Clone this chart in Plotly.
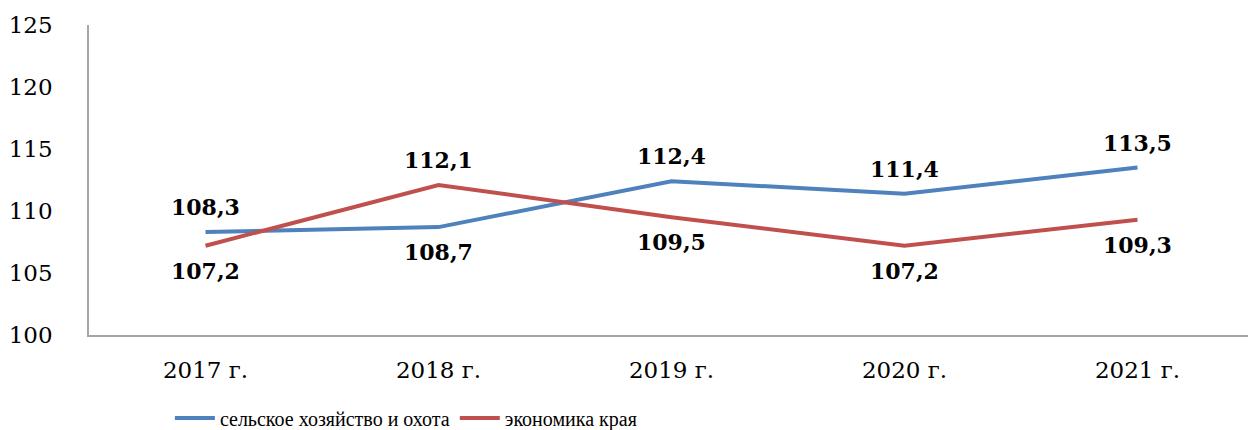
import plotly.graph_objects as go

categories = ["2017 г.", "2018 г.", "2019 г.", "2020 г.", "2021 г."]
agri = [108.3, 108.7, 112.4, 111.4, 113.5]
econ = [107.2, 112.1, 109.5, 107.2, 109.3]
agri_label_pos = [1, -1, 1, 1, 1]   # 1 = above, -1 = below
econ_label_pos = [-1, 1, -1, -1, -1]
y_ticks = [100, 105, 110, 115, 120, 125]

wide_serif = "DejaVu Serif"
serif = "Liberation Serif, Times New Roman, serif"

fig = go.Figure()
fig.add_trace(go.Scatter(x=categories, y=agri, mode="lines", name="сельское хозяйство и охота",
                         line=dict(color="#4f81bd", width=4)))
fig.add_trace(go.Scatter(x=categories, y=econ, mode="lines", name="экономика края",
                         line=dict(color="#c0504d", width=4)))

def fmt(v):
    return f"{v:.1f}".replace(".", ",")

for vals, pos in ((agri, agri_label_pos), (econ, econ_label_pos)):
    for c, v, p in zip(categories, vals, pos):
        fig.add_annotation(x=c, y=v, text=f"<b>{fmt(v)}</b>", showarrow=False,
                           yshift=25 * p, font=dict(family=wide_serif, size=22, color="black"))

# page body has a default 8px margin, so the figure is sized to fit the window
fig.update_layout(
    width=1248, height=422,
    margin=dict(l=81, r=2, t=17, b=95, autoexpand=False),
    paper_bgcolor="white", plot_bgcolor="white",
    showlegend=True,
    legend=dict(orientation="h", x=0.272, xanchor="center", y=-0.268, yanchor="middle",
                font=dict(family=serif, size=20, color="black"), itemwidth=40,
                tracegroupgap=0),
    font=dict(family=wide_serif, size=22, color="black"),
)
fig.update_xaxes(range=[-0.5, 4.5], showline=True, linecolor="#a6a6a6", linewidth=1.5,
                 showgrid=False, ticks="", ticklabelstandoff=14, automargin=False,
                 tickfont=dict(family=wide_serif, size=23, color="black"))
fig.update_yaxes(range=[100, 125], tickvals=y_ticks, showline=True, linecolor="#a6a6a6",
                 linewidth=1.5, showgrid=False, ticks="", zeroline=False, automargin=False,
                 ticklabelstandoff=30, tickfont=dict(family=wide_serif, size=23, color="black"))

fig.write_html("out.html")
